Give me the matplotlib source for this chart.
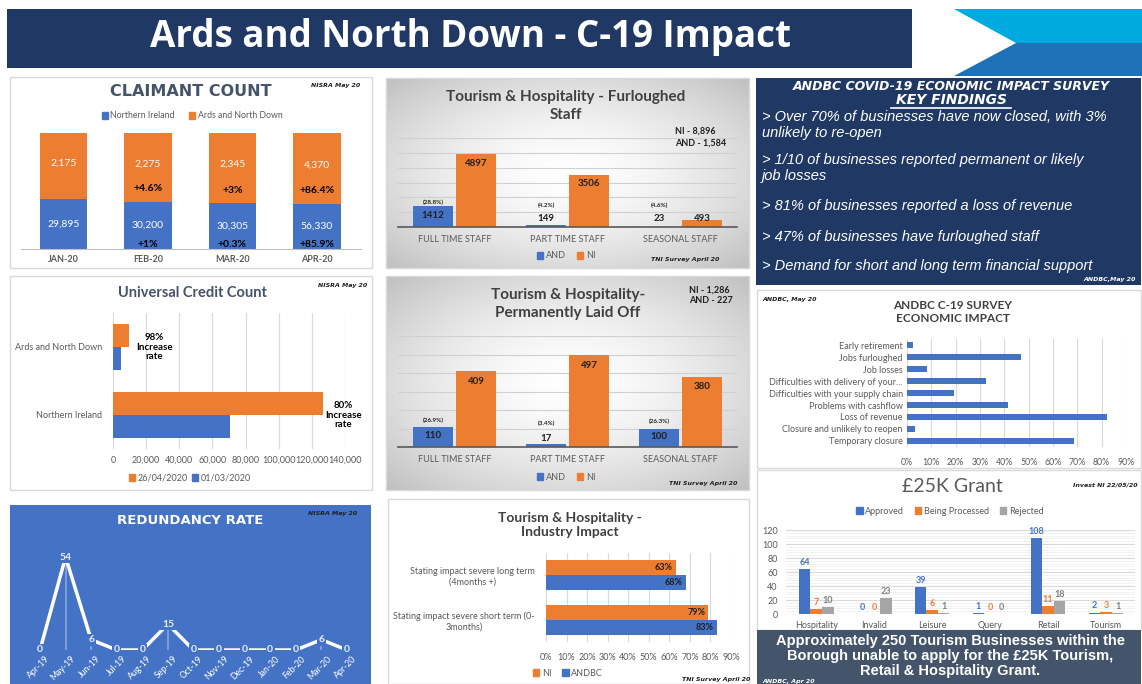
import numpy as np
import matplotlib.pyplot as plt
from matplotlib.patches import Rectangle, Polygon, Patch

# ---- data ----
months = ['JAN-20', 'FEB-20', 'MAR-20', 'APR-20']
ni_claim = [29895, 30200, 30305, 56330]
and_claim = [2175, 2275, 2345, 4370]
ni_change = ['', '+1%', '+0.3%', '+85.9%']
and_change = ['', '+4.6%', '+3%', '+86.4%']
ni_share = [43.2, 40.9, 39.8, 39.2]  # blue part of each bar (%), as drawn

staff = ['FULL TIME STAFF', 'PART TIME STAFF', 'SEASONAL STAFF']
furl_and = [1412, 149, 23]
furl_ni = [4897, 3506, 493]
furl_pct = ['(28.8%)', '(4.2%)', '(4.6%)']
laid_and = [110, 17, 100]
laid_ni = [409, 497, 380]
laid_pct = ['(26.9%)', '(3.4%)', '(26.3%)']

uc_areas = ['Ards and North Down', 'Northern Ireland']
uc_mar = [4850, 70500]
uc_apr = [9600, 126900]
uc_rate = ['98%\nIncrease\nrate', '80%\nIncrease\nrate']

impacts = ['Early retirement', 'Jobs furloughed', 'Job losses',
           'Difficulties with delivery of your...',
           'Difficulties with your supply chain', 'Problems with cashflow',
           'Loss of revenue', 'Closure and unlikely to reopen',
           'Temporary closure']
impact_pct = [2.4, 47, 8.3, 32.5, 19.5, 41.5, 82, 3.3, 68.5]

red_months = ['Apr-19', 'May-19', 'Jun-19', 'Jul-19', 'Aug-19', 'Sep-19',
              'Oct-19', 'Nov-19', 'Dec-19', 'Jan-20', 'Feb-20', 'Mar-20',
              'Apr-20']
red_values = [0, 54, 6, 0, 0, 15, 0, 0, 0, 0, 0, 6, 0]

ind_terms = ['Stating impact severe long term\n(4months +)',
             'Stating impact severe short term (0-\n3months)']
ind_ni = [63, 79]
ind_andbc = [68, 83]

sectors = ['Hospitality', 'Invalid', 'Leisure', 'Query', 'Retail', 'Tourism']
approved = [64, 0, 39, 1, 108, 2]
processing = [7, 0, 6, 0, 11, 3]
rejected = [10, 23, 1, 0, 18, 1]

findings = ['> Over 70% of businesses have now closed, with 3%\nunlikely to re-open',
            '> 1/10 of businesses reported permanent or likely\njob losses',
            '> 81% of businesses reported a loss of revenue',
            '> 47% of businesses have furloughed staff',
            '> Demand for short and long term financial support']

# ---- styles ----
W, H = 1142, 684
BLUE = '#4472C4'
ORANGE = '#ED7D31'
GREY = '#A5A5A5'
NAVY = '#203864'
SLATE = '#44546A'
TXT = '#595959'

plt.rcParams['font.family'] = ['Lato', 'DejaVu Sans']

fig = plt.figure(figsize=(W / 100, H / 100), dpi=100)
bg = fig.add_axes([0, 0, 1, 1], zorder=-10)
bg.axis('off')


def panel(x0, y0, x1, y1, fc='white', ec='#D9D9D9'):
    bg.add_patch(Rectangle((x0, y0), x1 - x0, y1 - y0, fc=fc, ec=ec, lw=1))


def grad_panel(x0, y0, x1, y1):
    yy, xx = np.mgrid[-1:1:200j, -1:1:300j]
    r = np.sqrt(xx ** 2 + yy ** 2) / np.sqrt(2)
    g = 1 - 0.25 * r ** 1.6
    bg.imshow(np.dstack([g, g, g]), extent=(x0, x1, y1, y0), aspect='auto',
              interpolation='bilinear', zorder=1)
    bg.add_patch(Rectangle((x0, y0), x1 - x0, y1 - y0, fc='none',
                           ec='#D9D9D9', lw=1, zorder=2))


def axes_px(x0, y0, x1, y1):
    ax = fig.add_axes([x0 / W, 1 - y1 / H, (x1 - x0) / W, (y1 - y0) / H])
    ax.set_facecolor('none')
    for s in ax.spines.values():
        s.set_visible(False)
    return ax


def txt(x, y, s, **kw):
    kw.setdefault('ha', 'center')
    kw.setdefault('va', 'center')
    fig.text(x / W, 1 - y / H, s, **kw)


def note(x, y, s, color='#1F1F1F', ha='center'):
    txt(x, y, s, fontsize=4.5, fontweight='bold', style='italic', color=color,
        ha=ha, family='DejaVu Sans')


def legend(x, y, labels, colors, fs=6.5, gap=1.2, color=TXT):
    handles = [Patch(color=c) for c in colors]
    fig.legend(handles, labels, loc='center', bbox_to_anchor=(x / W, 1 - y / H),
               ncol=len(labels), frameon=False, fontsize=fs, handlelength=0.7,
               handleheight=0.7, handletextpad=0.3, columnspacing=gap,
               labelcolor=color)


# ---- header ----
bg.add_patch(Rectangle((7, 9), 905, 59, fc=NAVY, ec='none'))
txt(470, 37, 'Ards and North Down - C-19 Impact', fontsize=26.5,
    fontweight='bold', color='white', family='Open Sans')
bg.add_patch(Polygon([(954, 9), (1142, 9), (1142, 43), (1016, 43)],
                     closed=True, fc='#00A9E0', ec='none'))
bg.add_patch(Polygon([(1016, 43), (1142, 43), (1142, 76), (954, 76)],
                     closed=True, fc='#1F72B8', ec='none'))

# ---- panels ----
panel(10, 77, 372, 268)
grad_panel(386, 78, 749, 268)
panel(756, 78, 1141, 285, fc='#1F3864', ec='none')
panel(10, 276, 372, 490)
grad_panel(386, 276, 749, 490)
panel(757, 290, 1141, 468)
panel(10, 505, 371, 684, fc=BLUE, ec='none')
panel(388, 499, 749, 684)
panel(757, 470, 1141, 630)
panel(757, 630, 1141, 684, fc=SLATE, ec='none')

# ---- claimant count ----
ax = axes_px(21, 125, 361, 249)
x = np.arange(len(months))
and_share = [100 - s for s in ni_share]
ax.bar(x, ni_share, 0.56, color=BLUE)
ax.bar(x, and_share, 0.56, bottom=ni_share, color=ORANGE)
for i in x:
    ax.text(i, ni_share[i] / 2, f'{ni_claim[i]:,}', ha='center', va='center',
            color='white', fontsize=7.5)
    ax.text(i, ni_share[i] + and_share[i] * 0.55, f'{and_claim[i]:,}',
            ha='center', va='center', color='white', fontsize=7.5)
    ax.text(i, 4, ni_change[i], ha='center', va='center', fontsize=7.5,
            fontweight='bold', color='black')
    ax.text(i, ni_share[i] + 11, and_change[i], ha='center', va='center',
            fontsize=7.5, fontweight='bold', color='black')
ax.set_xlim(-0.5, 3.52)
ax.set_ylim(0, 107)
ax.set_yticks([])
ax.set_xticks(x, months, fontsize=6.5, color=TXT, fontweight='bold')
ax.tick_params(axis='x', length=0, pad=4)
ax.spines['bottom'].set_visible(True)
ax.spines['bottom'].set_color('#BFBFBF')
txt(191, 92, 'CLAIMANT COUNT', fontsize=11.5, fontweight='bold', color=SLATE,
    family='DejaVu Sans')
note(336, 86, 'NISRA May 20')
legend(192, 116, ['Northern Ireland', 'Ards and North Down'], [BLUE, ORANGE],
       fs=6.3, gap=1.6)


# ---- tourism bars (furloughed / laid off) ----
def staff_chart(box, top, step, and_v, ni_v, pct, in_off, low):
    ax = axes_px(*box)
    x = np.arange(len(staff))
    ax.bar(x - 0.19, and_v, 0.36, color=BLUE, zorder=2)
    ax.bar(x + 0.19, ni_v, 0.36, color=ORANGE, zorder=2)
    for i in x:
        ya = max(and_v[i] * 0.55, low)
        ax.text(i - 0.19, ya, str(and_v[i]), ha='center', va='center',
                fontsize=7, fontweight='bold', color='#1F1F1F')
        ax.text(i - 0.19, ya + step * 0.85, pct[i], ha='center', va='center',
                fontsize=4.5, fontweight='bold', color='#1F1F1F')
        ax.text(i + 0.19, max(ni_v[i] - in_off, low), str(ni_v[i]),
                ha='center', va='center', fontsize=7, fontweight='bold',
                color='#1F1F1F')
    ax.set_xlim(-0.5, 2.5)
    ax.set_ylim(0, top)
    ax.set_yticks(np.arange(0, top + 1, step), [])
    ax.tick_params(axis='y', length=0)
    ax.grid(axis='y', color='#D0D0D0', lw=0.8, zorder=0)
    ax.set_xticks(x, staff, fontsize=6.5, color=TXT)
    ax.tick_params(axis='x', length=0, pad=6)
    ax.spines['bottom'].set_visible(True)
    ax.spines['bottom'].set_color('#595959')
    ax.spines['bottom'].set_linewidth(1.2)
    ax.spines['bottom'].set_zorder(3)


staff_chart((398, 138, 737, 227), 6000, 1000, furl_and, furl_ni, furl_pct,
            600, 600)
txt(566, 106, 'Tourism & Hospitality - Furloughed\nStaff', fontsize=11,
    fontweight='bold', color='#404040', linespacing=1.3)
txt(675, 137, 'NI - 8,896\nAND - 1,584', fontsize=6.5, fontweight='bold',
    color='#1F1F1F', ha='left', linespacing=1.4)
legend(566, 256, ['AND', 'NI'], [BLUE, ORANGE])
note(685, 260, 'TNI Survey April 20')

staff_chart((398, 336, 737, 447), 600, 100, laid_and, laid_ni, laid_pct,
            55, 45)
txt(568, 304, 'Tourism & Hospitality-\nPermanently Laid Off', fontsize=11,
    fontweight='bold', color='#404040', linespacing=1.3)
txt(689, 295, 'NI - 1,286\nAND - 227', fontsize=6.5, fontweight='bold',
    color='#1F1F1F', ha='left', linespacing=1.2)
legend(566, 477, ['AND', 'NI'], [BLUE, ORANGE])
note(703, 483, 'TNI Survey April 20')

# ---- key findings ----
txt(951, 86, 'ANDBC COVID-19 ECONOMIC IMPACT SURVEY', fontsize=9,
    fontweight='bold', style='italic', color='white', family='DejaVu Sans')
txt(951, 100, 'KEY FINDINGS', fontsize=10, fontweight='bold', style='italic',
    color='white', family='DejaVu Sans')
bg.plot([891, 1011], [108, 108], color='white', lw=1.2)
for s, y in zip(findings, [125, 168, 206, 237, 266]):
    txt(762, y, s, fontsize=10.5, style='italic', color='white', ha='left',
        family='Liberation Sans', linespacing=1.1)
note(1136, 280, 'ANDBC,May 20', color='white', ha='right')

# ---- universal credit ----
ax = axes_px(113, 313, 345, 449)
y = np.arange(len(uc_areas))
ax.barh(y - 0.167, uc_apr, 0.333, color=ORANGE, zorder=2)
ax.barh(y + 0.167, uc_mar, 0.333, color=BLUE, zorder=2)
ax.set_xlim(0, 140000)
ax.set_ylim(1.5, -0.5)
ax.set_xticks(np.arange(0, 140001, 20000),
              [f'{v:,}' for v in range(0, 140001, 20000)], fontsize=6.5,
              color=TXT)
ax.set_yticks(y, uc_areas, fontsize=6.5, color=TXT)
ax.tick_params(length=0)
ax.tick_params(axis='y', pad=8)
ax.tick_params(axis='x', pad=5)
ax.grid(axis='x', color='#D9D9D9', lw=0.8, zorder=0)
ax.text(25000, 0, uc_rate[0], ha='center', va='center', fontsize=7,
        fontweight='bold', color='black', linespacing=1.1)
ax.text(139000, 1, uc_rate[1], ha='center', va='center', fontsize=7,
        fontweight='bold', color='black', linespacing=1.1)
txt(192, 293, 'Universal Credit Count', fontsize=10.5, fontweight='bold',
    color=SLATE)
note(343, 286, 'NISRA May 20')
legend(190, 478, ['26/04/2020', '01/03/2020'], [ORANGE, BLUE], fs=6.5,
       gap=0.4)

# ---- ANDBC survey impact ----
ax = axes_px(907, 339, 1126, 447)
y = np.arange(len(impacts))
ax.barh(y, impact_pct, 0.58, color=BLUE, zorder=2)
ax.set_ylim(len(impacts) - 0.5, -0.5)
ax.set_xlim(0, 90)
ax.set_xticks(np.arange(0, 91, 10), [f'{v}%' for v in range(0, 91, 10)],
              fontsize=6.3, color=TXT)
ax.set_yticks(y, impacts, fontsize=6.5, color=TXT)
ax.tick_params(length=0)
ax.tick_params(axis='y', pad=3)
ax.tick_params(axis='x', pad=8)
ax.grid(axis='x', color='#D9D9D9', lw=0.8, zorder=0)
txt(953, 312, 'ANDBC C-19 SURVEY\nECONOMIC IMPACT', fontsize=8.5,
    fontweight='bold', color='#404040', linespacing=1.3)
note(790, 299, 'ANDBC, May 20')

# ---- redundancy rate ----
ax = axes_px(27, 540, 360, 650)
x = np.arange(len(red_months))
ax.vlines([i for i in x if red_values[i] > 0], 0,
          [v for v in red_values if v > 0], color='white', alpha=0.3, lw=1.5)
ax.plot(x, red_values, color='white', lw=2.5, solid_joinstyle='miter')
for i in x:
    ax.text(i, red_values[i], str(red_values[i]), ha='center', va='center',
            fontsize=7.5, fontweight='bold', color='#E8EEF8',
            bbox=dict(fc=BLUE, ec='none', pad=1.2))
ax.set_xlim(-0.508, 12.51)
ax.set_ylim(0, 63.9)
ax.set_yticks([])
ax.set_xticks(x + 0.2, red_months, fontsize=6.3, color='white', rotation=45,
              ha='right', rotation_mode='anchor')
ax.tick_params(axis='x', length=0, pad=3)
txt(190, 521, 'REDUNDANCY RATE', fontsize=9.5, fontweight='bold',
    color='white', family='DejaVu Sans')
note(333, 513, 'NISRA May 20')

# ---- industry impact ----
ax = axes_px(546, 553, 731, 642)
y = np.arange(len(ind_terms))
ax.barh(y - 0.167, ind_ni, 0.333, color=ORANGE, zorder=2)
ax.barh(y + 0.167, ind_andbc, 0.333, color=BLUE, zorder=2)
for i in y:
    ax.text(ind_ni[i] - 1.5, i - 0.167, f'{ind_ni[i]}%', ha='right',
            va='center', fontsize=6.5, fontweight='bold', color='#1F1F1F')
    ax.text(ind_andbc[i] - 1.5, i + 0.167, f'{ind_andbc[i]}%', ha='right',
            va='center', fontsize=6.5, fontweight='bold', color='#1F1F1F')
ax.set_xlim(0, 90)
ax.set_ylim(1.5, -0.5)
ax.set_xticks(np.arange(0, 91, 10), [f'{v}%' for v in range(0, 91, 10)],
              fontsize=6.5, color=TXT)
ax.set_yticks(y, ind_terms, fontsize=6.5, color=TXT, multialignment='center')
ax.tick_params(length=0)
ax.tick_params(axis='y', pad=8)
ax.tick_params(axis='x', pad=8)
ax.grid(axis='x', color='#D9D9D9', lw=0.8, zorder=0)
txt(570, 525, 'Tourism & Hospitality -\nIndustry Impact', fontsize=10,
    fontweight='bold', color='#404040', linespacing=1.3)
legend(568, 673, ['NI', 'ANDBC'], [ORANGE, BLUE], fs=6.5)
note(716, 680, 'TNI Survey April 20')

# ---- 25K grant ----
ax = axes_px(786, 530, 1135, 614)
x = np.arange(len(sectors))
for vals, off, c, tc in [(approved, -0.2, BLUE, BLUE),
                         (processing, 0, ORANGE, ORANGE),
                         (rejected, 0.2, GREY, '#7F7F7F')]:
    ax.bar(x + off, vals, 0.2, color=c, zorder=2)
    for i in x:
        ax.text(i + off, vals[i] + 3, str(vals[i]), ha='center', va='bottom',
                fontsize=6.5, fontweight='bold', color=tc)
ax.set_xlim(-0.52, 5.5)
ax.set_ylim(0, 120)
ax.set_yticks(np.arange(0, 121, 20))
ax.set_yticks(np.arange(0, 121, 4), minor=True)
ax.tick_params(axis='y', which='both', length=0, labelsize=6.5,
               labelcolor=TXT, pad=6)
ax.set_xticks(x, sectors, fontsize=6.5, color=TXT)
ax.tick_params(axis='x', length=0, pad=5)
ax.grid(axis='y', which='major', color='#D9D9D9', lw=0.8, zorder=0)
ax.grid(axis='y', which='minor', color='#EFEFEF', lw=0.6, zorder=0)
txt(952, 487, '£25K Grant', fontsize=14, color=TXT)
note(1105, 485, 'Invest NI 22/05/20')
legend(950, 511, ['Approved', 'Being Processed', 'Rejected'],
       [BLUE, ORANGE, GREY], fs=6.5)

txt(950, 656, 'Approximately 250 Tourism Businesses within the\n'
    'Borough unable to apply for the £25K Tourism,\n'
    'Retail & Hospitality Grant.', fontsize=10.5, fontweight='bold',
    color='white', family='Liberation Sans', linespacing=1.05)
note(762, 681, 'ANDBC, Apr 20', color='white', ha='left')

bg.set_xlim(0, W)
bg.set_ylim(H, 0)

fig.savefig('out.png', dpi=100)
